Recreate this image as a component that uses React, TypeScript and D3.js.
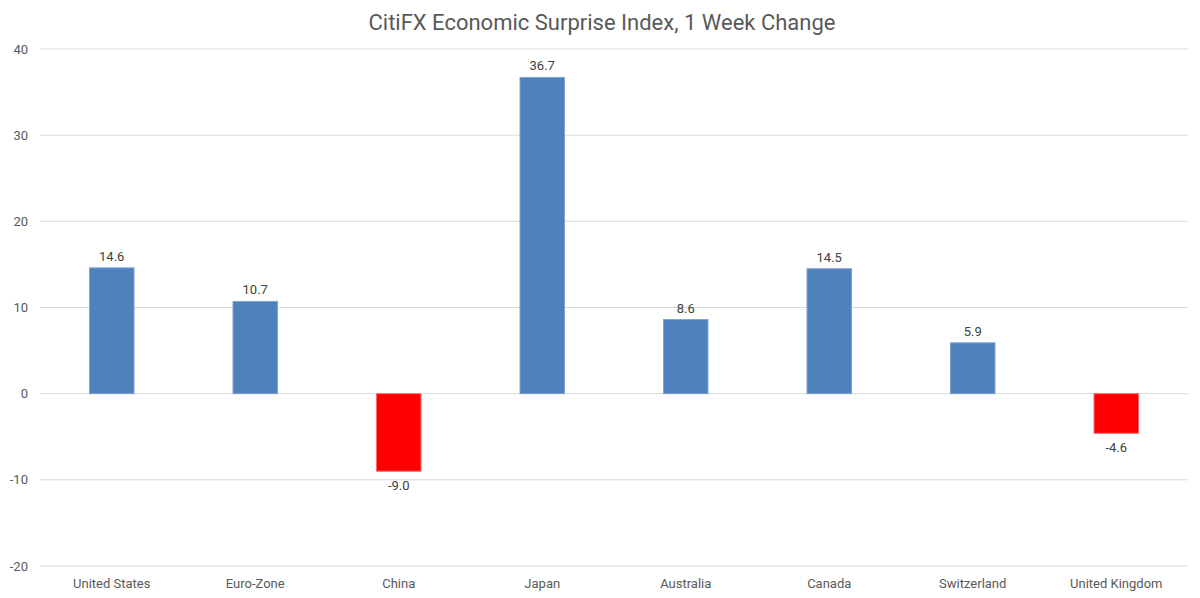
import React, { useEffect, useRef } from "react";
import * as d3 from "d3";

const categories = ["United States", "Euro-Zone", "China", "Japan", "Australia", "Canada", "Switzerland", "United Kingdom"];
const changes = [14.6, 10.7, -9.0, 36.7, 8.6, 14.5, 5.9, -4.6];
const yTicks = [-20, -10, 0, 10, 20, 30, 40];

const W = 1200;
const H = 598;
const margin = { top: 49, right: 12, bottom: 32, left: 40 };
const FONT = "Roboto, 'DejaVu Sans', sans-serif";
const TEXT = "#595959";

export default function App() {
  const ref = useRef<SVGSVGElement>(null);

  useEffect(() => {
    const svg = d3.select(ref.current);
    svg.selectAll("*").remove();

    const x = d3.scaleBand().domain(categories).range([margin.left, W - margin.right]);
    const y = d3.scaleLinear().domain([-20, 40]).range([H - margin.bottom, margin.top]);
    const barW = x.step() * 0.31;

    svg.append("text")
      .attr("x", W / 2 + 2)
      .attr("y", 30)
      .attr("text-anchor", "middle")
      .style("font", `22px ${FONT}`)
      .attr("fill", TEXT)
      .text("CitiFX Economic Surprise Index, 1 Week Change");

    // gridlines
    svg.append("g")
      .selectAll("line")
      .data(yTicks)
      .join("line")
      .attr("x1", margin.left)
      .attr("x2", W - margin.right)
      .attr("y1", d => y(d))
      .attr("y2", d => y(d))
      .attr("stroke", "#d9d9d9")
      .attr("stroke-width", 1);

    svg.append("g")
      .selectAll("text")
      .data(yTicks)
      .join("text")
      .attr("x", 28)
      .attr("y", d => y(d))
      .attr("dy", "0.35em")
      .attr("text-anchor", "end")
      .style("font", `13px ${FONT}`)
      .attr("fill", TEXT)
      .text(d => d);

    const data = categories.map((c, i) => ({ c, v: changes[i] }));

    svg.append("g")
      .selectAll("rect")
      .data(data)
      .join("rect")
      .attr("x", d => x(d.c)! + x.bandwidth() / 2 - barW / 2)
      .attr("width", barW)
      .attr("y", d => y(Math.max(0, d.v)))
      .attr("height", d => Math.abs(y(d.v) - y(0)))
      .attr("fill", d => (d.v >= 0 ? "#4f81bd" : "#ff0000"))
      .attr("stroke", d => (d.v >= 0 ? "#7ea3d2" : "#ff6b6b"))
      .attr("stroke-width", 1);

    svg.append("g")
      .selectAll("text")
      .data(data)
      .join("text")
      .attr("x", d => x(d.c)! + x.bandwidth() / 2)
      .attr("y", d => (d.v >= 0 ? y(d.v) - 7 : y(d.v) + 19))
      .attr("text-anchor", "middle")
      .style("font", `13px ${FONT}`)
      .attr("fill", "#404040")
      .text(d => d.v.toFixed(1));

    svg.append("g")
      .selectAll("text")
      .data(categories)
      .join("text")
      .attr("x", d => x(d)! + x.bandwidth() / 2)
      .attr("y", H - 10)
      .attr("text-anchor", "middle")
      .style("font", `13px ${FONT}`)
      .attr("fill", TEXT)
      .text(d => d);
  }, []);

  return (
    <div style={{ position: "absolute", left: 0, top: 0 }}>
      <svg ref={ref} width={W} height={H} style={{ display: "block", background: "#fff" }} />
    </div>
  );
}
